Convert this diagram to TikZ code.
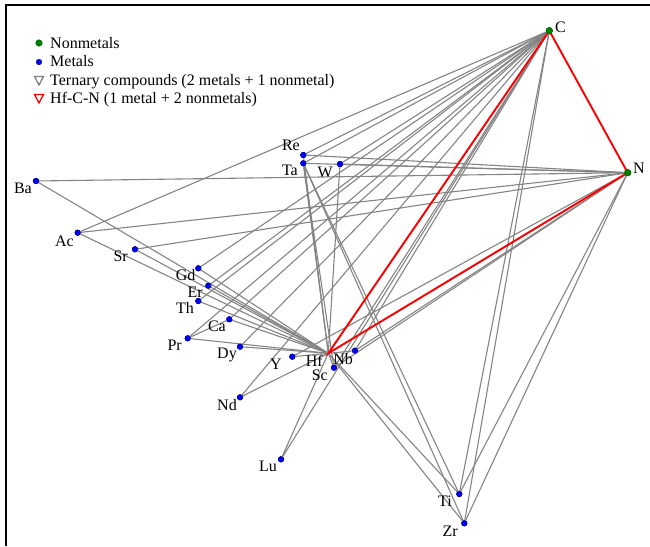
\documentclass[tikz,border=0pt]{standalone}
\usepackage{fontspec}
\setmainfont{Liberation Serif}
\definecolor{edgegray}{RGB}{132,132,132}
\definecolor{nmgreen}{RGB}{0,128,0}
\begin{document}
\begin{tikzpicture}[x=1pt,y=-1pt,
  font=\fontsize{16}{18}\selectfont,
  metal/.style={circle,fill=blue,draw=blue!55!black,line width=0.5pt,inner sep=0pt,minimum size=5.5pt},
  nonmetal/.style={circle,fill=nmgreen,draw=nmgreen!80!black,line width=0.5pt,inner sep=0pt,minimum size=6.5pt},
  hub/.style={inner sep=0pt,minimum size=0pt},
  lab/.style={inner sep=0pt},
  edge/.style={draw=edgegray,line width=1.1pt},
  hfedge/.style={draw=red,line width=1.9pt},
  frameline/.style={draw=black,line width=1.3pt}]
\useasboundingbox (0,0) rectangle (650,546);
\draw[frameline] (6,546) -- (6,5) -- (650,5);
% nodes
\node[nonmetal] (C) at (549.3,30.7) {};
\node[nonmetal] (N) at (627.7,172.7) {};
\node[hub] (Hf) at (328.3,353.3) {};
\foreach \n/\x/\y in {Ba/36/181, Ac/77.7/232.7, Sr/135/249.3, Gd/198.3/268.3, Er/208.3/285.7,
  Th/198.3/301, Ca/229.3/319.3, Pr/187.7/338.3, Dy/240/346.7, Y/292.3/356.7, Nb/355/350.7,
  Sc/334/367.7, Nd/240/397.3, Lu/281/459.3, Ti/459.3/494, Zr/464.3/523.3, Re/303.3/155,
  Ta/303.3/163.3, W/340/164}
  \node[metal] (\n) at (\x,\y) {};
% edges
\foreach \a/\b in {Ba/N, Ba/Hf, Ac/C, Ac/N, Ac/Hf, Sr/N, Sr/Hf, Gd/C, Gd/Hf, Er/C, Er/Hf,
  Th/C, Th/Hf, Ca/C, Ca/Hf, Pr/C, Pr/Hf, Pr/Ca, Dy/C, Dy/Hf, Y/Hf, Y/N, Nd/Hf, Nd/C, Lu/Hf, Lu/C,
  Sc/Hf, Sc/C, Sc/N, Nb/Hf, Nb/C, Nb/N, Ta/Hf, Ta/C, Ta/N, Ta/Ti, Ta/Zr, Ta/Sc,
  Re/Hf, Re/C, Re/N, W/Hf, W/C, W/N, Ti/Hf, Ti/C, Ti/N, Zr/Hf, Zr/C, Zr/N, Hf/C, Hf/N}
  \draw[edge] (\a.center) -- (\b.center);
\draw[hfedge] (Hf.center) -- (C.center) -- (N.center) -- cycle;
% dots on top
\foreach \n in {Ba,Ac,Sr,Gd,Er,Th,Ca,Pr,Dy,Y,Nb,Sc,Nd,Lu,Ti,Zr,Re,Ta,W}
  \node[metal] at (\n) {};
\node[nonmetal] at (C) {};
\node[nonmetal] at (N) {};
% labels
\node[lab,anchor=base west] (Cl) at (555,32) {C};
\node[lab,anchor=base west] (Nl) at (633,173) {N};
\foreach \n/\x/\y in {Ba/32/193, Ac/74/246, Sr/128/261.5, Gd/195.7/280.7, Er/203/297,
  Th/194/313, Ca/226/331.7, Pr/182/350, Dy/237/358, Y/282/369, Hf/323/366, Nb/353/364,
  Sc/328/380, Nd/237/410.7, Lu/277/471.7, Ti/452/506.7, Zr/458/536, Re/300/150,
  Ta/298/175, W/333/177}
  \node[lab,anchor=base east] (\n l) at (\x,\y) {\n};
% legend
\node[nonmetal] (lg1) at (39,43) {};
\node[metal] (lg2) at (39,62) {};
\draw[draw=gray,line width=1.3pt,line join=miter] (34.5,76.5) -- (43.5,76.5) -- (39,85) -- cycle;
\draw[draw=red,line width=1.3pt,line join=miter] (34.5,94.5) -- (43.5,94.5) -- (39,103) -- cycle;
\node[lab,anchor=base west] (lt1) at (50,48) {Nonmetals};
\node[lab,anchor=base west] (lt2) at (50,66.5) {Metals};
\node[lab,anchor=base west] (lt3) at (50,85) {Ternary compounds (2 metals + 1 nonmetal)};
\node[lab,anchor=base west] (lt4) at (50,103.5) {Hf-C-N (1 metal + 2 nonmetals)};
\end{tikzpicture}
\end{document}
